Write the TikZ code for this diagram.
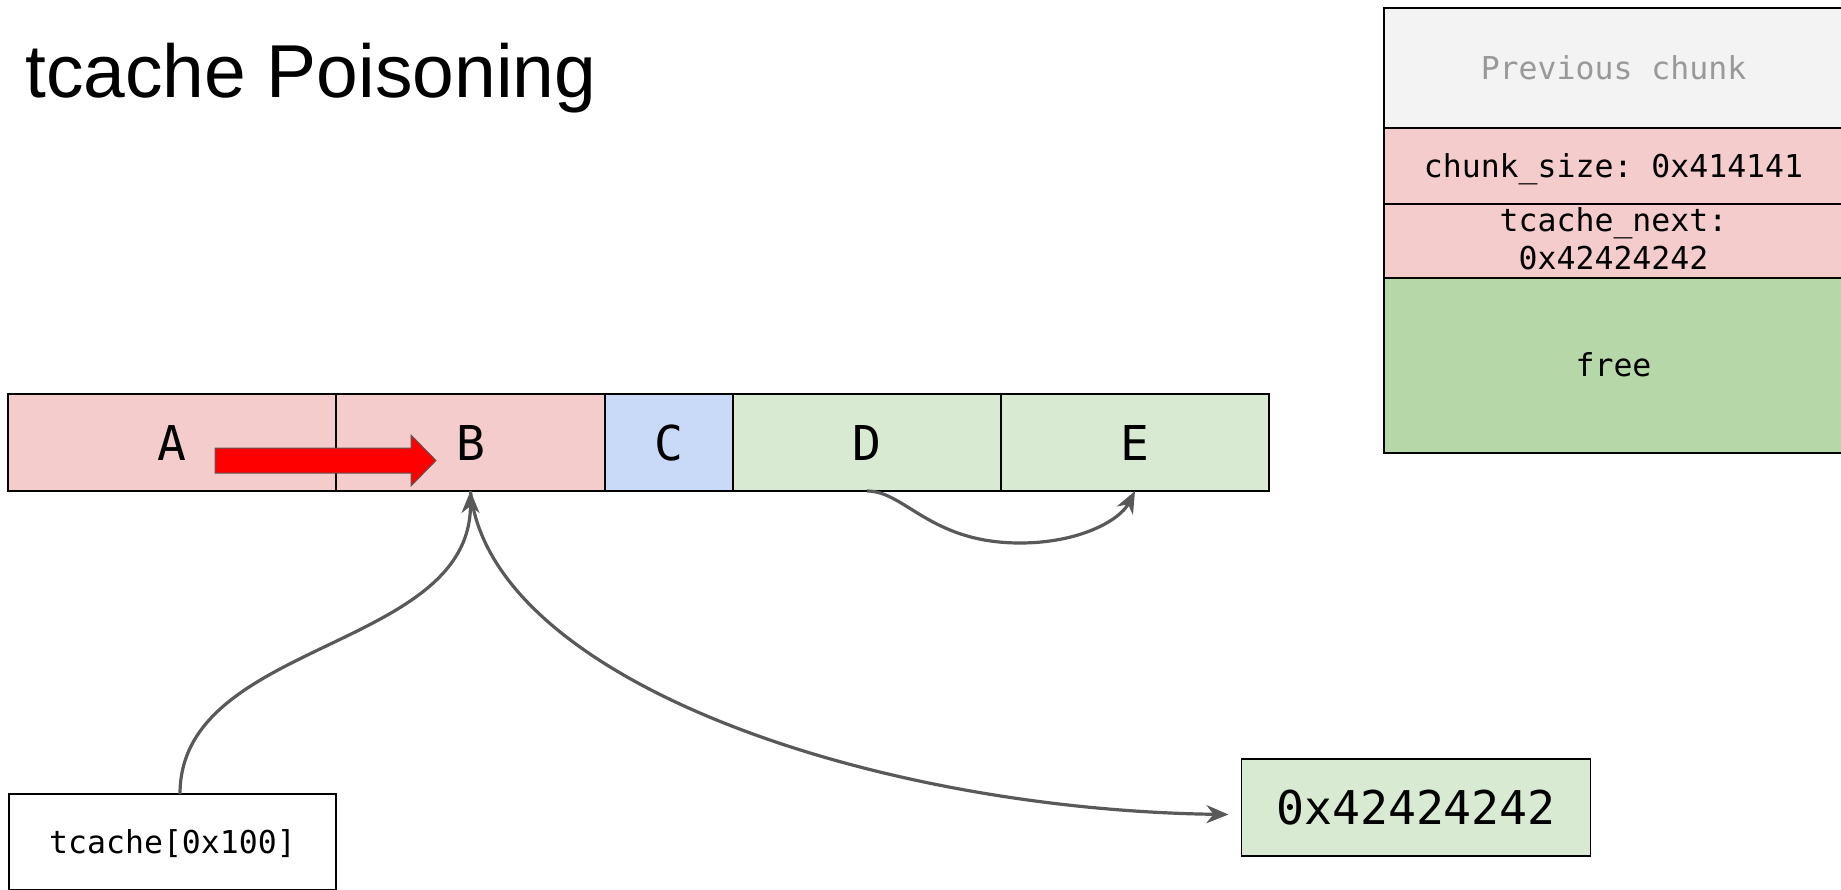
\documentclass[tikz,border=0pt]{standalone}
\usepackage{fontspec}
\setmainfont{Liberation Sans}
\setmonofont{DejaVu Sans Mono}
\usetikzlibrary{arrows.meta}
\definecolor{pinkc}{HTML}{F4CCCC}
\definecolor{bluec}{HTML}{C9DAF8}
\definecolor{greenc}{HTML}{D9EAD3}
\definecolor{freec}{HTML}{B6D7A8}
\definecolor{prevc}{HTML}{F3F3F3}
\definecolor{prevtext}{HTML}{999999}
\definecolor{linec}{HTML}{595959}
\tikzset{
  cell/.style={draw=black, line width=1.6pt, inner sep=0pt, outer sep=0pt, text depth=0pt},
  big/.style={font=\ttfamily\fontsize{48}{48}\selectfont, text height=35pt},
  small/.style={font=\ttfamily\fontsize{31.5}{38}\selectfont, text height=23pt},
  conn/.style={draw=linec, line width=3.2pt,
    -{Stealth[length=22pt,width=18pt,inset=7pt]}},
}
\begin{document}
\begin{tikzpicture}[x=1pt,y=-1pt]
\useasboundingbox (0,0) rectangle (1841,890);
\clip (0,0) rectangle (1841,890);
\fill[white] (0,0) rectangle (1841,890);
% title
\node[anchor=base west, inner sep=0pt, font=\fontsize{75}{75}\selectfont] (title) at (25,98) {tcache Poisoning};
% memory bar
\node[cell, big, fill=pinkc, minimum width=328pt, minimum height=97pt] (A) at (172,442.5) {A};
\node[cell, big, fill=pinkc, minimum width=269pt, minimum height=97pt] (B) at (470.5,442.5) {B};
\node[cell, big, fill=bluec, minimum width=128pt, minimum height=97pt] (C) at (669,442.5) {C};
\node[cell, big, fill=greenc, minimum width=268pt, minimum height=97pt] (D) at (867,442.5) {D};
\node[cell, big, fill=greenc, minimum width=268pt, minimum height=97pt] (E) at (1135,442.5) {E};
% red block arrow
\filldraw[fill=red, draw=linec, line width=1pt]
  (215,448) -- (411,448) -- (411,435) -- (436,460.5) -- (411,486) -- (411,473) -- (215,473) -- cycle;
% chunk stack
\node[cell, small, fill=prevc, text=prevtext, minimum width=459pt, minimum height=120pt] (prev) at (1613.5,68) {Previous chunk};
\node[cell, small, fill=pinkc, minimum width=459pt, minimum height=76pt] (size) at (1613.5,166) {chunk\_size: 0x414141};
\node[cell, fill=pinkc, minimum width=459pt, minimum height=74pt] (next) at (1613.5,241) {};
\node[small, anchor=base, inner sep=0pt] (nextl1) at (1613.5,232) {tcache\_next:};
\node[small, anchor=base, inner sep=0pt] (nextl2) at (1613.5,270) {0x42424242};
\node[cell, small, fill=freec, minimum width=459pt, minimum height=175pt] (free) at (1613.5,365.5) {free};
% tcache box
\node[cell, small, fill=white, minimum width=327pt, minimum height=96pt] (tc) at (172.5,842) {tcache[0x100]};
% value box
\node[cell, font=\ttfamily\fontsize{46.5}{46.5}\selectfont, text height=34pt, fill=greenc, minimum width=349pt, minimum height=97pt] (val) at (1416,807.5) {0x42424242};
% connectors
\draw[conn] ([xshift=7.5pt]tc.north) .. controls +(0,-154) and +(0,160) .. (B.south);
\draw[conn] (B.south) .. controls +(19.5,189) and +(-358,-5) .. ([xshift=-13pt,yshift=-7pt]val.west);
\coordinate (dmid) at (1020,543);
\draw[conn] (D.south) .. controls +(38,0) and +(-90,0) .. (dmid) .. controls +(60,0) and +(-15,29) .. (E.south);
\end{tikzpicture}
\end{document}
